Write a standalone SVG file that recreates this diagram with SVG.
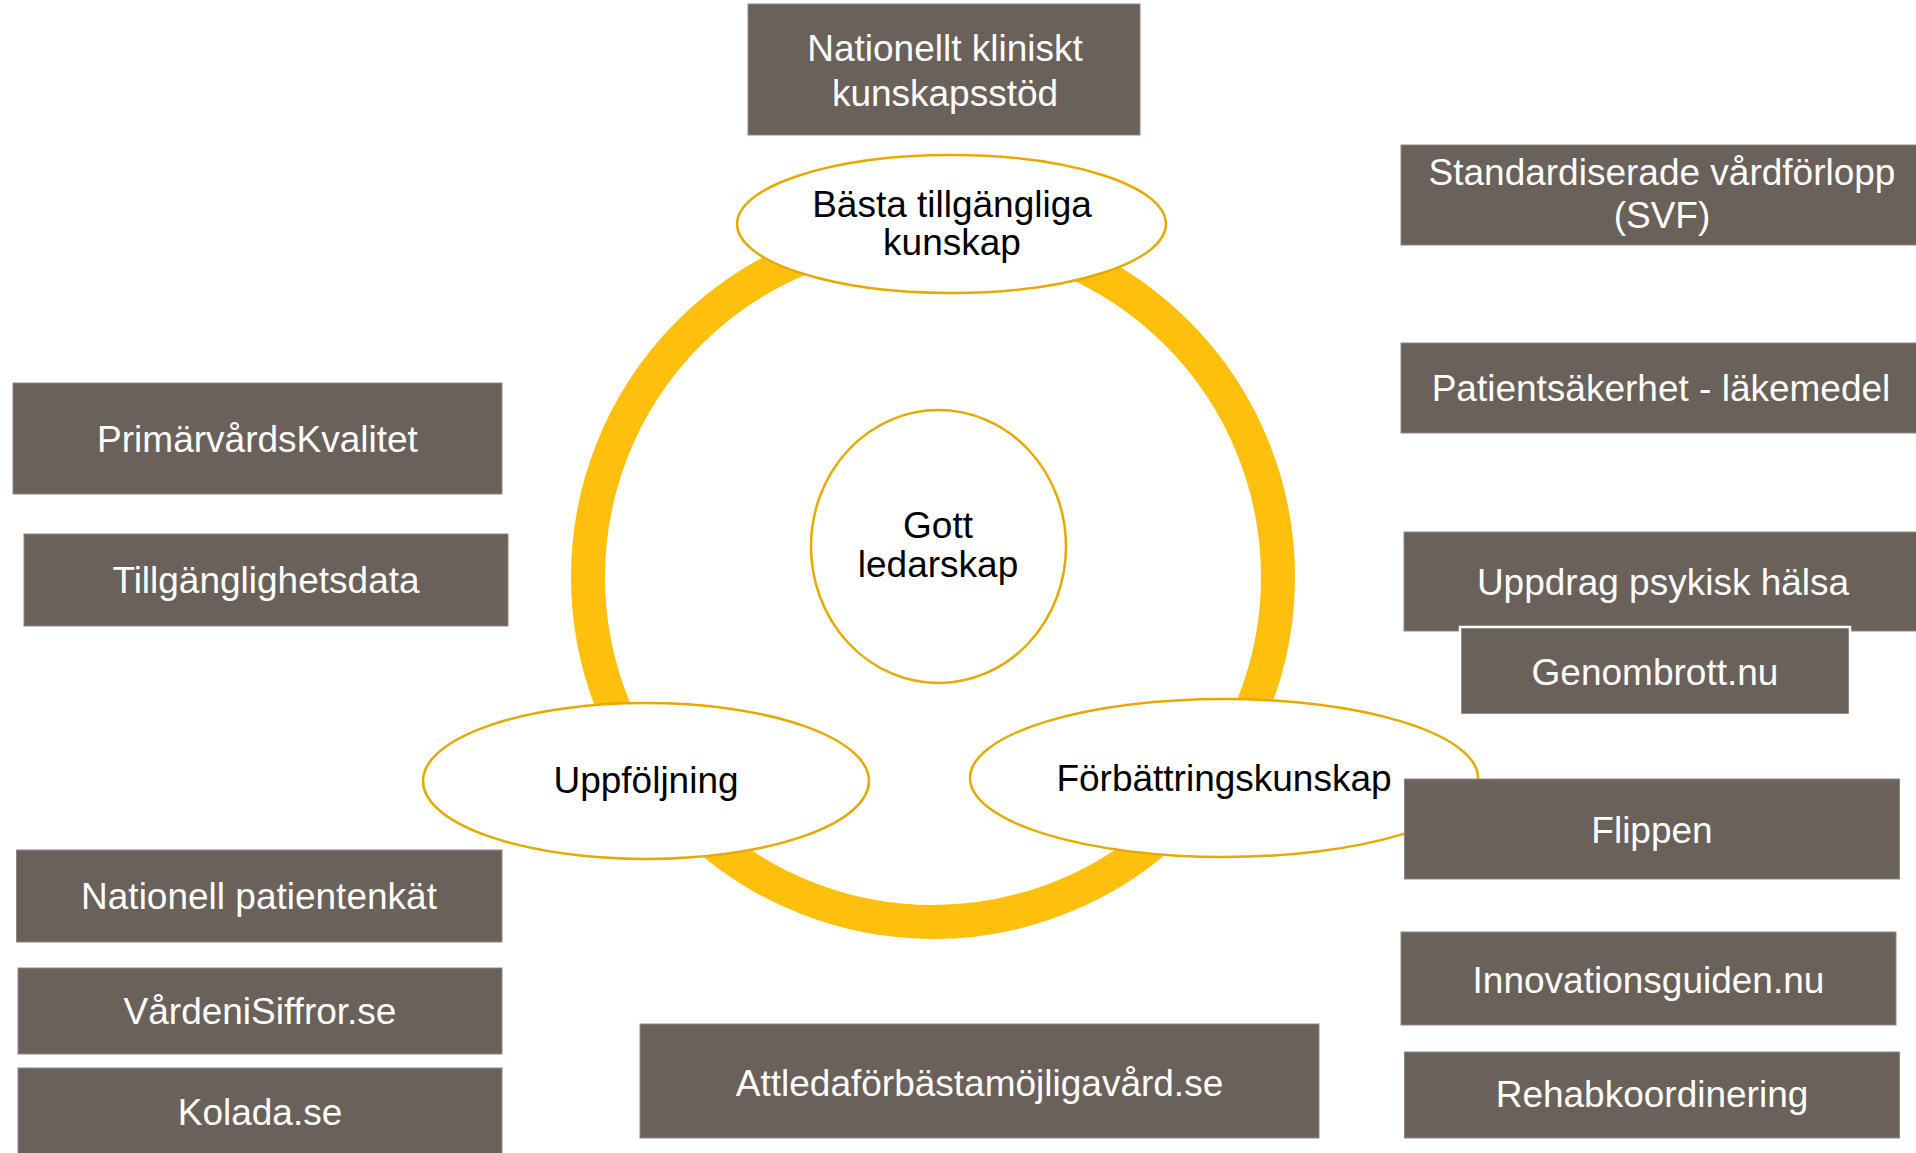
<svg xmlns="http://www.w3.org/2000/svg" width="1916" height="1153" viewBox="0 0 1916 1153">
  <style>
    .box { fill: #6A615A; stroke: #8e8782; stroke-width: 1; }
    .btxt { fill: #ffffff; font-family: "Liberation Sans", Arial, sans-serif; font-size: 37px; text-anchor: middle; }
    .ell { fill: #ffffff; stroke: #E6A900; stroke-width: 2.5; }
    .etxt { fill: #000000; font-family: "Liberation Sans", Arial, sans-serif; font-size: 37px; text-anchor: middle; }
  </style>
  <rect width="1916" height="1153" fill="#ffffff"/>

  <g id="connectors">
    <circle cx="933" cy="577" r="345" fill="none" stroke="#FFC00D" stroke-width="34"/>
  </g>

  <g id="gott-ledarskap">
    <ellipse class="ell" cx="938.5" cy="546.5" rx="127.5" ry="136.5"/>
    <text class="etxt" x="938" y="538">Gott</text>
    <text class="etxt" x="938" y="577">ledarskap</text>
  </g>

  <g id="basta-kunskap">
    <ellipse class="ell" cx="951.5" cy="224" rx="214.5" ry="69"/>
    <text class="etxt" x="952" y="217">Bästa tillgängliga</text>
    <text class="etxt" x="952" y="255">kunskap</text>
  </g>

  <g id="uppfoljning">
    <ellipse class="ell" cx="646" cy="781" rx="223" ry="78"/>
    <text class="etxt" x="646" y="793">Uppföljning</text>
  </g>

  <g id="forbattringskunskap">
    <ellipse class="ell" cx="1224" cy="778" rx="254" ry="79"/>
    <text class="etxt" x="1224" y="791">Förbättringskunskap</text>
  </g>

  <g id="nationellt-kliniskt">
    <rect class="box" x="748" y="4" width="392" height="131"/>
    <text class="btxt" x="945" y="61">Nationellt kliniskt</text>
    <text class="btxt" x="945" y="106">kunskapsstöd</text>
  </g>

  <g id="svf">
    <rect class="box" x="1401" y="145" width="530" height="100"/>
    <text class="btxt" x="1662" y="185">Standardiserade vårdförlopp</text>
    <text class="btxt" x="1662" y="228">(SVF)</text>
  </g>

  <g id="patientsakerhet">
    <rect class="box" x="1401" y="343" width="530" height="90"/>
    <text class="btxt" x="1661" y="401">Patientsäkerhet - läkemedel</text>
  </g>

  <g id="uppdrag-psykisk-halsa">
    <rect class="box" x="1404" y="532" width="530" height="99"/>
    <text class="btxt" x="1663" y="595">Uppdrag psykisk hälsa</text>
  </g>

  <g id="genombrott">
    <rect x="1460" y="627" width="390" height="88" fill="#6A615A" stroke="#ffffff" stroke-width="2.5"/>
    <text class="btxt" x="1655" y="685">Genombrott.nu</text>
  </g>

  <g id="flippen">
    <rect class="box" x="1404.5" y="779" width="495" height="100"/>
    <text class="btxt" x="1652" y="843">Flippen</text>
  </g>

  <g id="innovationsguiden">
    <rect class="box" x="1401" y="932" width="495" height="93"/>
    <text class="btxt" x="1648.5" y="993">Innovationsguiden.nu</text>
  </g>

  <g id="rehabkoordinering">
    <rect class="box" x="1404.5" y="1052" width="495" height="86"/>
    <text class="btxt" x="1652" y="1107">Rehabkoordinering</text>
  </g>

  <g id="attleda">
    <rect class="box" x="640" y="1024" width="679" height="114"/>
    <text class="btxt" x="979.5" y="1096">Attledaförbästamöjligavård.se</text>
  </g>

  <g id="primarvardskvalitet">
    <rect class="box" x="13" y="383" width="489" height="111"/>
    <text class="btxt" x="257.5" y="452">PrimärvårdsKvalitet</text>
  </g>

  <g id="tillganglighetsdata">
    <rect class="box" x="24" y="534" width="484" height="92"/>
    <text class="btxt" x="266" y="593">Tillgänglighetsdata</text>
  </g>

  <g id="nationell-patientenkat">
    <rect class="box" x="16.5" y="850" width="485.5" height="92"/>
    <text class="btxt" x="259" y="909">Nationell patientenkät</text>
  </g>

  <g id="vardenisiffror">
    <rect class="box" x="18" y="968" width="484" height="86"/>
    <text class="btxt" x="260" y="1024">VårdeniSiffror.se</text>
  </g>

  <g id="kolada">
    <rect class="box" x="18" y="1068" width="484" height="92"/>
    <text class="btxt" x="260" y="1125">Kolada.se</text>
  </g>
</svg>
